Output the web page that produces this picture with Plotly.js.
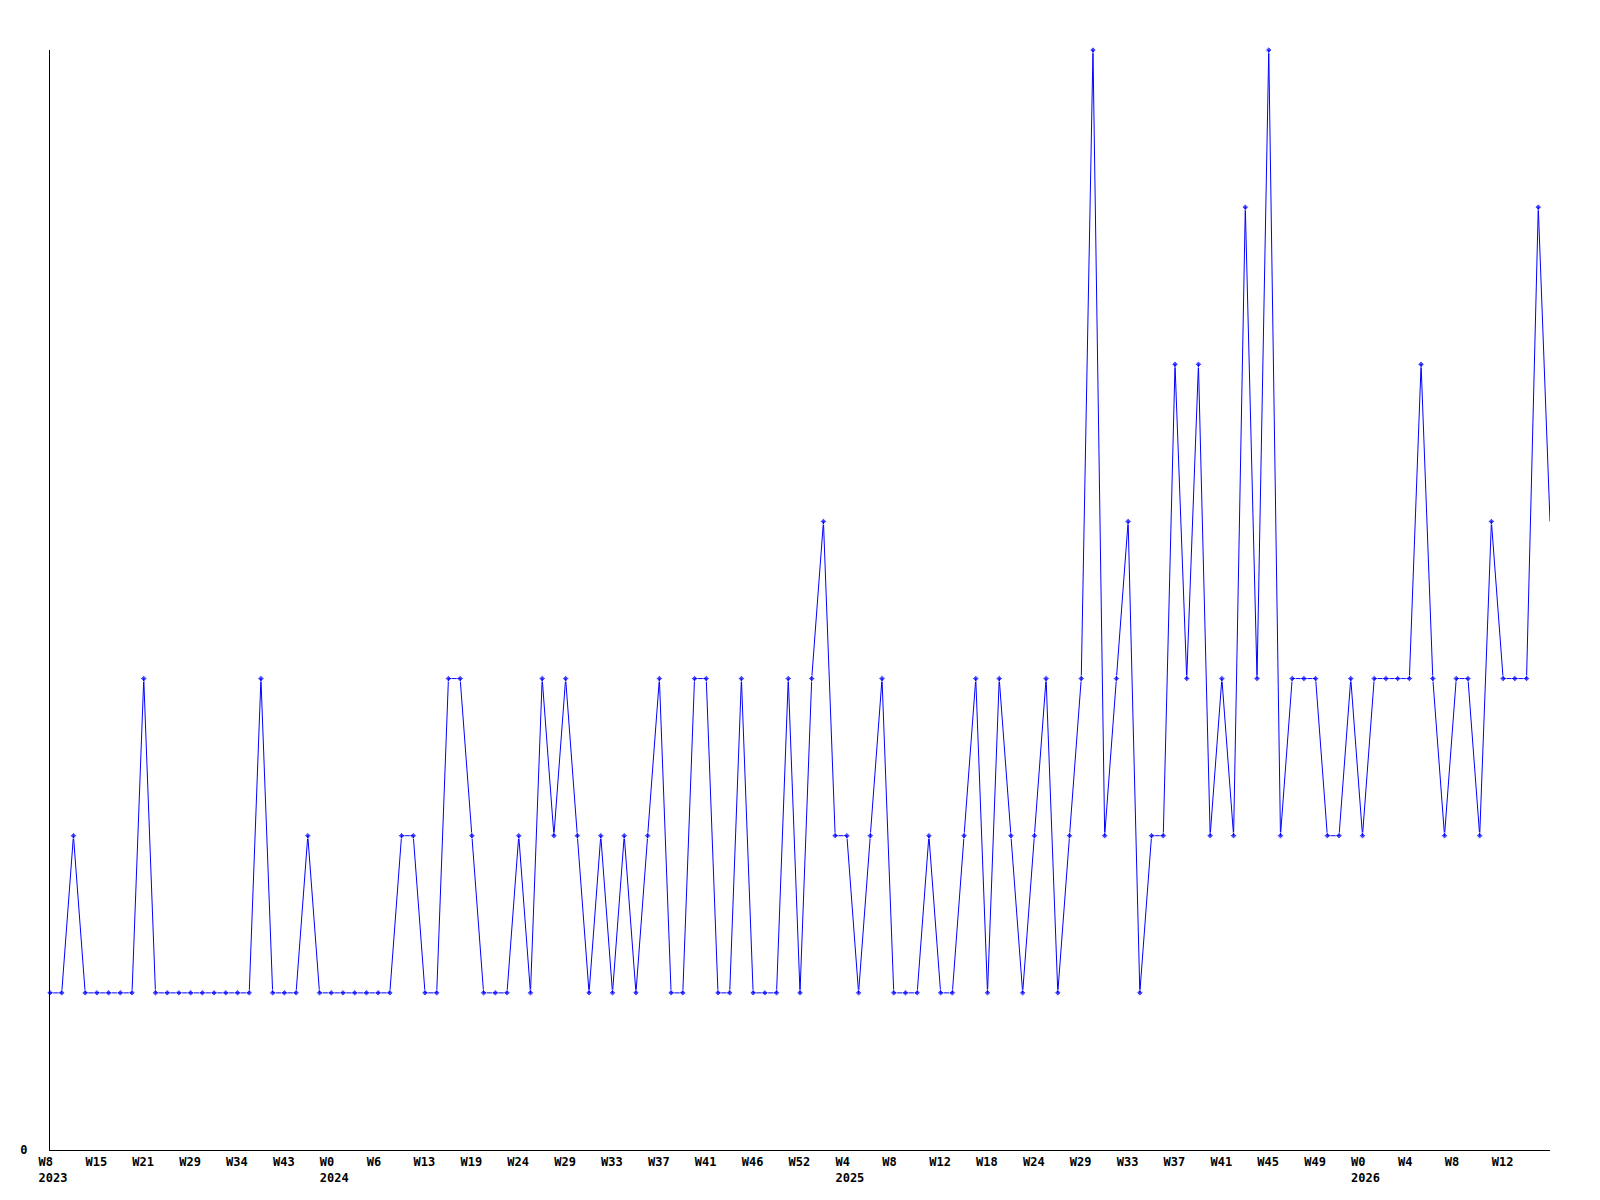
<!DOCTYPE html>
<html><head><meta charset="utf-8">
<script src="https://cdn.plot.ly/plotly-3.0.1.min.js"></script>
<style>html,body{margin:0;padding:0;background:#fff;}#chart{width:1600px;height:1200px;}</style>
</head><body><div id="chart"></div>
<script>
const values = [1,1,2,1,1,1,1,1,3,1,1,1,1,1,1,1,1,1,3,1,1,1,2,1,1,1,1,1,1,1,
2,2,1,1,3,3,2,1,1,1,2,1,3,2,3,2,1,2,1,2,1,2,3,1,1,3,3,1,1,3,
1,1,1,3,1,3,4,2,2,1,2,3,1,1,1,2,1,1,2,3,1,3,2,1,2,3,1,2,3,7,
2,3,4,1,2,2,5,3,5,2,3,2,6,3,7,2,3,3,3,2,2,3,2,3,3,3,3,5,3,2,
3,3,2,4,3,3,3,6,4];
const weekLabels = ["W8","W15","W21","W29","W34","W43","W0","W6","W13","W19","W24","W29","W33","W37","W41","W46","W52","W4","W8","W12","W18","W24","W29","W33","W37","W41","W45","W49","W0","W4","W8","W12"];
const yearLabels = ["2023","","","","","","2024","","","","","","","","","","","2025","","","","","","","","","","","2026","","",""];
const tickStep = 4;

const xIdx = values.map((v,i)=>i);
const pad = s => s + "\u00a0".repeat(Math.max(0,4-s.length));
const tickvals = weekLabels.map((w,i)=>i*tickStep);
const ticktext = weekLabels.map((w,i)=> yearLabels[i] ? pad(w)+"<br>"+pad(yearLabels[i]) : pad(w)+"<br>\u00a0");
const sizes = values.map((v,i)=> i===values.length-1 ? 0 : 5);

const font = {family:"DejaVu Sans Mono, Liberation Mono, monospace", size:12, weight:"bold", color:"#000"};
Plotly.newPlot("chart", [{
  x: xIdx, y: values, type:"scatter", mode:"lines+markers",
  line:{color:"#0000ff", width:1},
  marker:{color:"#0000ff", size:sizes, symbol:"diamond"},
  cliponaxis:false, hoverinfo:"skip"
}], {
  width:1600, height:1200,
  margin:{l:50, r:50, t:50, b:50, pad:0},
  paper_bgcolor:"#fff", plot_bgcolor:"#fff",
  showlegend:false,
  xaxis:{range:[0, values.length-1], tickvals:tickvals, ticktext:ticktext, tickmode:"array",
    showgrid:false, zeroline:false, showline:true, linecolor:"#000", linewidth:1,
    ticks:"", tickfont:font, ticklabelshift:3, ticklabelstandoff:1, tickangle:0, fixedrange:true},
  yaxis:{range:[0,7], tickvals:[0], ticktext:["0"], tickmode:"array",
    showgrid:false, zeroline:false, showline:true, linecolor:"#000", linewidth:1,
    ticks:"", tickfont:font, ticklabelstandoff:19, fixedrange:true}
}, {displayModeBar:false, staticPlot:true});
</script></body></html>
